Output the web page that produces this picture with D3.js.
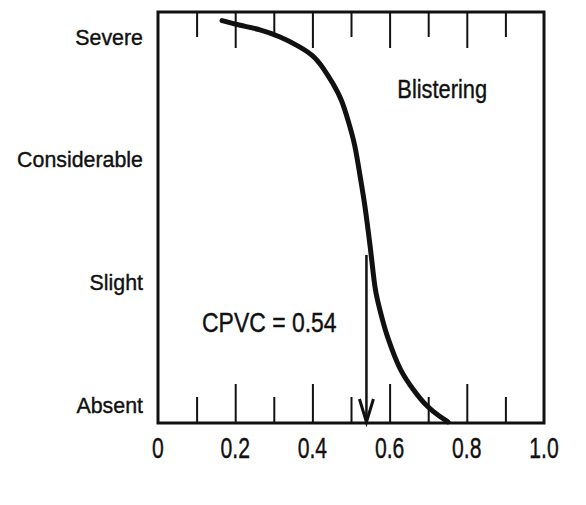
<!DOCTYPE html>
<html>
<head>
<meta charset="utf-8">
<script src="https://cdn.jsdelivr.net/npm/d3@7"></script>
<style>
  body { margin: 0; background: #fff; }
  text { font-family: "Liberation Sans", Arial, sans-serif; fill: #111; stroke: #111; stroke-width: 0.4; }
</style>
</head>
<body>
<script>
// Severity levels on the y axis (bottom to top)
var levels = ["Absent", "Slight", "Considerable", "Severe"];

// X axis ticks (pigment volume concentration)
var xLabelValues = [0, 0.2, 0.4, 0.6, 0.8, 1.0];
var xLabels = ["0", "0.2", "0.4", "0.6", "0.8", "1.0"];
var xMajorTicks = [0.2, 0.4, 0.6, 0.8];
var xMinorTicks = [0.1, 0.3, 0.5, 0.7, 0.9];

// Blistering curve (x = PVC, y = severity level)
var curveX = [0.166, 0.212, 0.264, 0.316, 0.360, 0.402, 0.427, 0.453, 0.477, 0.492, 0.510, 0.523, 0.536, 0.546, 0.554, 0.562, 0.575, 0.588, 0.606, 0.627, 0.661, 0.697, 0.731, 0.751];
var curveY = [3.13, 3.09, 3.06, 3.00, 2.93, 2.85, 2.75, 2.62, 2.48, 2.32, 2.13, 1.87, 1.63, 1.38, 1.18, 0.93, 0.77, 0.61, 0.45, 0.28, 0.12, -0.02, -0.10, -0.14];

// Critical PVC marker
var cpvc = 0.54;
var cpvcArrowTop = 1.22;

var svgWidth = 586;
var svgHeight = 505;

var margin = { top: 12, right: 42, bottom: 82, left: 158 };
var chartWidth = svgWidth - margin.left - margin.right;
var chartHeight = svgHeight - margin.top - margin.bottom;

var svg = d3.select("body")
  .append("svg")
  .attr("width", svgWidth)
  .attr("height", svgHeight);

var chartGroup = svg.append("g")
  .attr("transform", "translate(" + margin.left + ", " + margin.top + ")");

var xScale = d3.scaleLinear().domain([0, 1]).range([0, chartWidth]);
var yScale = d3.scaleLinear().domain([-0.15, 3.2]).range([chartHeight, 0]);

// Frame
chartGroup.append("rect")
  .attr("x", 0)
  .attr("y", 0)
  .attr("width", chartWidth)
  .attr("height", chartHeight)
  .attr("fill", "none")
  .attr("stroke", "#111")
  .attr("stroke-width", 3);

// Inward ticks along bottom and top edges
function tickAxis(axisFn, values, size, yPos) {
  var g = chartGroup.append("g")
    .attr("transform", "translate(0, " + yPos + ")")
    .call(axisFn(xScale).tickValues(values).tickSize(size).tickFormat(""));
  g.select(".domain").remove();
  g.selectAll(".tick line").attr("stroke", "#111").attr("stroke-width", 2);
}
tickAxis(d3.axisBottom, xMinorTicks, -26, chartHeight);
tickAxis(d3.axisBottom, xMajorTicks, -39, chartHeight);
tickAxis(d3.axisTop, xMinorTicks, -25, 0);
tickAxis(d3.axisTop, xMajorTicks, -36, 0);

// X tick labels (condensed look)
chartGroup.selectAll(".xlabel")
  .data(xLabelValues)
  .enter()
  .append("text")
  .attr("class", "xlabel")
  .attr("text-anchor", "middle")
  .attr("font-size", 29)
  .attr("transform", function (d) {
    return "translate(" + xScale(d) + ", " + (chartHeight + 35) + ") scale(0.73, 1)";
  })
  .text(function (d, i) { return xLabels[i]; });

// Y level labels
chartGroup.selectAll(".ylabel")
  .data(levels)
  .enter()
  .append("text")
  .attr("class", "ylabel")
  .attr("text-anchor", "end")
  .attr("font-size", 23)
  .attr("transform", function (d, i) {
    return "translate(-15, " + (yScale(i) + 8) + ") scale(0.93, 1)";
  })
  .text(function (d) { return d; });

// Blistering curve
var points = curveX.map(function (d, i) { return [d, curveY[i]]; });
var drawLine = d3.line()
  .x(function (d) { return xScale(d[0]); })
  .y(function (d) { return yScale(d[1]); })
  .curve(d3.curveBasis);

chartGroup.append("path")
  .attr("d", drawLine(points))
  .attr("fill", "none")
  .attr("stroke", "#111")
  .attr("stroke-width", 5)
  .attr("stroke-linecap", "round");

// CPVC arrow
var ax = xScale(cpvc);
var ayBottom = yScale(-0.15) - 1;
chartGroup.append("line")
  .attr("x1", ax)
  .attr("x2", ax)
  .attr("y1", yScale(cpvcArrowTop))
  .attr("y2", ayBottom)
  .attr("stroke", "#111")
  .attr("stroke-width", 2.5);

chartGroup.append("path")
  .attr("d", "M" + (ax - 7) + "," + (ayBottom - 23) + "L" + ax + "," + ayBottom + "L" + (ax + 7) + "," + (ayBottom - 23))
  .attr("fill", "none")
  .attr("stroke", "#111")
  .attr("stroke-width", 3);

// Annotations
chartGroup.append("text")
  .attr("font-size", 26)
  .attr("stroke-width", 0.8)
  .attr("transform", "translate(" + xScale(0.62) + ", " + yScale(2.5) + ") scale(0.84, 1)")
  .text("Blistering");

chartGroup.append("text")
  .attr("font-size", 28)
  .attr("transform", "translate(" + xScale(0.114) + ", " + yScale(0.59) + ") scale(0.82, 1)")
  .text("CPVC = 0.54");
</script>
</body>
</html>
